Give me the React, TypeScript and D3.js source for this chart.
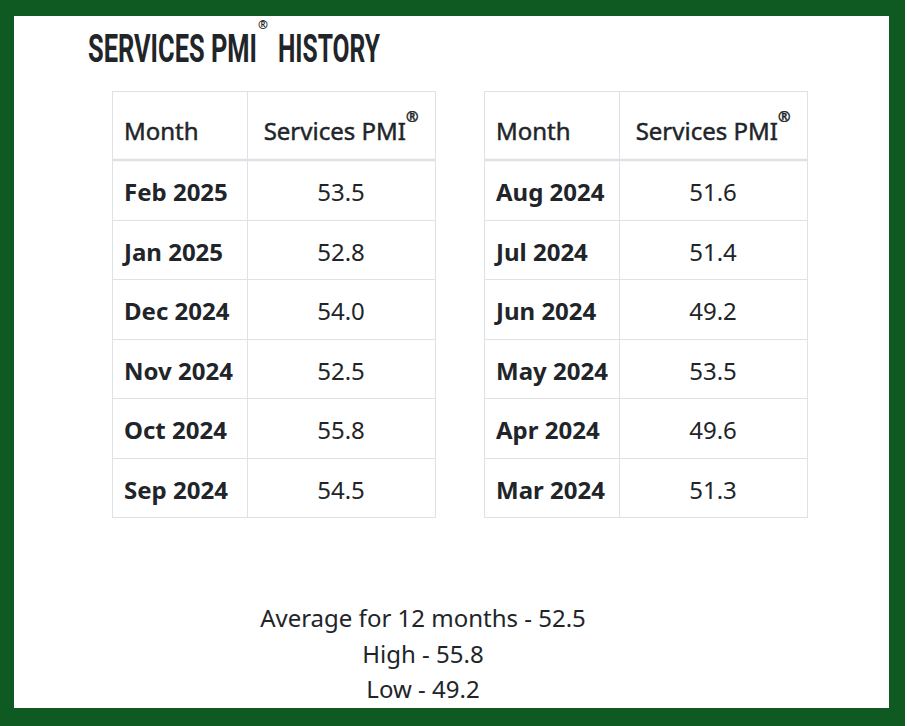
import React from "react";
import * as d3 from "d3";

const titleMain = "SERVICES PMI";
const titleTail = "HISTORY";
const colHeaders = ["Month", "Services PMI"];
const leftMonths = ["Feb 2025", "Jan 2025", "Dec 2024", "Nov 2024", "Oct 2024", "Sep 2024"];
const leftValues = [53.5, 52.8, 54.0, 52.5, 55.8, 54.5];
const rightMonths = ["Aug 2024", "Jul 2024", "Jun 2024", "May 2024", "Apr 2024", "Mar 2024"];
const rightValues = [51.6, 51.4, 49.2, 53.5, 49.6, 51.3];

const W = 907;
const H = 726;
const GREEN = "#0f5a22";
const TEXT = "#212529";
const LINE = "#dee2e6";
const FONT = "'Noto Sans', 'Open Sans', sans-serif";
const FS = 24;

function Table({ x0, months, values }: { x0: number; months: string[]; values: number[] }) {
  const width = 323;
  const col1 = 135;
  const headerTop = 91;
  const headerBottom = 159;
  const rowTop = 161;
  const rowH = 59.5;
  const y = d3
    .scaleBand<string>()
    .domain(months)
    .range([rowTop, rowTop + rowH * months.length]);
  const bottom = rowTop + rowH * months.length;
  const c2 = x0 + col1 + (width - col1) / 2;
  return (
    <g>
      <line x1={x0 + 0.5} x2={x0 + 0.5} y1={headerTop} y2={bottom} stroke={LINE} />
      <line x1={x0 + width + 0.5} x2={x0 + width + 0.5} y1={headerTop} y2={bottom} stroke={LINE} />
      <line x1={x0 + col1 + 0.5} x2={x0 + col1 + 0.5} y1={headerTop} y2={bottom} stroke={LINE} />
      <line x1={x0} x2={x0 + width + 1} y1={headerTop + 0.5} y2={headerTop + 0.5} stroke={LINE} />
      <line x1={x0} x2={x0 + width + 1} y1={headerBottom + 1} y2={headerBottom + 1} stroke={LINE} strokeWidth={2.5} />
      {months.map((m) => (
        <line
          key={"l" + m}
          x1={x0}
          x2={x0 + width + 1}
          y1={Math.round(y(m)! + y.bandwidth()) - 0.5}
          y2={Math.round(y(m)! + y.bandwidth()) - 0.5}
          stroke={LINE}
        />
      ))}
      <text
        x={x0 + 12}
        y={headerTop + 49}
        fontFamily={FONT}
        fontSize={FS}
        fill={TEXT}
        stroke={TEXT}
        strokeWidth={0.45}
      >
        {colHeaders[0]}
      </text>
      <text
        x={c2}
        y={headerTop + 49}
        fontFamily={FONT}
        fontSize={FS}
        fill={TEXT}
        stroke={TEXT}
        strokeWidth={0.45}
        textAnchor="middle"
      >
        {colHeaders[1]}
        <tspan dy={-18} fontSize={15}>®</tspan>
      </text>
      {months.map((m, i) => (
        <g key={m}>
          <text x={x0 + 12} y={y(m)! + 40} fontFamily={FONT} fontSize={FS} fontWeight={700} fill={TEXT}>
            {m}
          </text>
          <text x={c2} y={y(m)! + 40} fontFamily={FONT} fontSize={FS} fill={TEXT} textAnchor="middle">
            {d3.format(".1f")(values[i])}
          </text>
        </g>
      ))}
    </g>
  );
}

export default function App() {
  const all = [...leftValues, ...rightValues];
  const avg = d3.mean(all)!;
  const hi = d3.max(all)!;
  const lo = d3.min(all)!;
  const f = d3.format(".1f");
  const summary = [
    `Average for ${all.length} months - ${f(avg)}`,
    `High - ${f(hi)}`,
    `Low - ${f(lo)}`,
  ];
  const titleFont = "Roboto, 'DejaVu Sans Condensed', sans-serif";
  return (
    <svg
      width={W}
      height={H}
      style={{ position: "absolute", left: 0, top: 0, display: "block" }}
      viewBox={`0 0 ${W} ${H}`}
    >
      <rect x={0} y={0} width={W} height={H} fill="#ffffff" />
      <rect x={0} y={0} width={905} height={H} fill={GREEN} />
      <rect x={14} y={16} width={875} height={692} fill="#ffffff" />
      <text fontFamily={titleFont} fontWeight={700} fontSize={38} fill={TEXT}>
        <tspan x={88} y={62} textLength={169} lengthAdjust="spacingAndGlyphs">
          {titleMain}
        </tspan>
        <tspan x={258} y={29} fontSize={12} fontFamily={FONT}>
          ®
        </tspan>
        <tspan x={278} y={62} textLength={102} lengthAdjust="spacingAndGlyphs">
          {titleTail}
        </tspan>
      </text>
      <Table x0={112} months={leftMonths} values={leftValues} />
      <Table x0={484} months={rightMonths} values={rightValues} />
      {summary.map((s, i) => (
        <text key={s} x={423} y={627 + i * 35.5} fontFamily={FONT} fontSize={FS} fill={TEXT} textAnchor="middle">
          {s}
        </text>
      ))}
    </svg>
  );
}
